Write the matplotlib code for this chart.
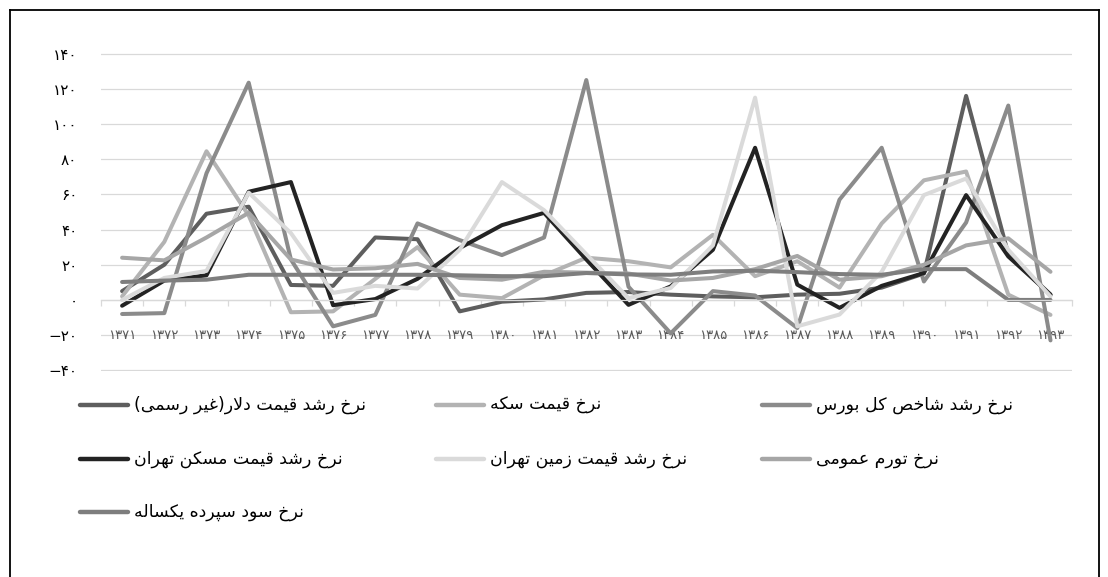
import matplotlib
matplotlib.use('Agg')
import matplotlib.pyplot as plt
from matplotlib.lines import Line2D
from matplotlib import font_manager
from matplotlib.ft2font import FT2Font

plt.rcParams['font.family'] = ['DejaVu Sans']

# ---------------- data ----------------
years = [1371, 1372, 1373, 1374, 1375, 1376, 1377, 1378, 1379, 1380, 1381, 1382,
         1383, 1384, 1385, 1386, 1387, 1388, 1389, 1390, 1391, 1392, 1393]

dollar = [5, 20, 49, 53, 8.5, 8, 35.5, 34.5, -6.5, -1, 0.3, 4, 4.5, 3, 2, 1.5,
          3, 3.5, 7, 15, 116, 26, 3]
coin = [2, 33, 84.5, 48, -7, -6.5, 12, 30, 3, 1, 14, 24, 22, 18.5, 37, 13.5,
        22, 7, 43.5, 68, 73, 3, -8.5]
stock = [-8, -7.5, 72, 123.5, 23, -15, -8.5, 43.5, 34, 25.5, 35.5, 125, 7.5,
         -19, 5, 2.5, -16, 57, 86.5, 10.5, 44, 110.5, -23]
housing = [-3.3, 11, 14, 61.5, 67, -3, 0.5, 12, 29.5, 42.5, 49.5, 23, -2.8,
           7.7, 28.5, 86.5, 8.7, -4.5, 8, 15.3, 59.6, 24.7, 3]
land = [0, 12.5, 16.5, 61, 38, 4, 8, 6.5, 28.5, 67, 51, 26, 1, 6.8, 31, 115,
        -15, -8.3, 16, 59.6, 69, 28.5, 2]
inflation = [24, 22.5, 35.5, 49.5, 23, 17.3, 18, 20.5, 12.5, 11.5, 16, 15.5,
             15, 11, 12.5, 17.5, 25, 11.5, 13.5, 20, 31, 35, 16]
deposit = [10.2, 11, 11.5, 14.3, 14.3, 14.3, 14.3, 14.3, 14, 13.5, 13.5, 15.3,
           14.5, 14.3, 16.2, 16.6, 15.8, 14.7, 14.3, 17.5, 17.5, 0, 0]

series_names = [
    'نرخ رشد قیمت دلار(غیر رسمی)',
    'نرخ قیمت سکه',
    'نرخ رشد شاخص کل بورس',
    'نرخ رشد قیمت مسکن تهران',
    'نرخ رشد قیمت زمین تهران',
    'نرخ تورم عمومی',
    'نرخ سود سپرده یکساله',
]
series_values = [dollar, coin, stock, housing, land, inflation, deposit]
series_colors = ['#5e5e5e', '#b3b3b3', '#8b8b8b', '#232323', '#dadada',
                 '#a6a6a6', '#7e7e7e']

y_ticks = [-40, -20, 0, 20, 40, 60, 80, 100, 120, 140]

# ---------------- Persian text helpers ----------------
FA_DIGITS = str.maketrans('0123456789-', '۰۱۲۳۴۵۶۷۸۹−')


def to_fa(n):
    return str(n).translate(FA_DIGITS)


FORMS = {
    'ا': ('\uFE8D', '\uFE8E', None, None),
    'ب': ('\uFE8F', '\uFE90', '\uFE91', '\uFE92'),
    'ت': ('\uFE95', '\uFE96', '\uFE97', '\uFE98'),
    'خ': ('\uFEA5', '\uFEA6', '\uFEA7', '\uFEA8'),
    'د': ('\uFEA9', '\uFEAA', None, None),
    'ر': ('\uFEAD', '\uFEAE', None, None),
    'ز': ('\uFEAF', '\uFEB0', None, None),
    'س': ('\uFEB1', '\uFEB2', '\uFEB3', '\uFEB4'),
    'ش': ('\uFEB5', '\uFEB6', '\uFEB7', '\uFEB8'),
    'ص': ('\uFEB9', '\uFEBA', '\uFEBB', '\uFEBC'),
    'ع': ('\uFEC9', '\uFECA', '\uFECB', '\uFECC'),
    'غ': ('\uFECD', '\uFECE', '\uFECF', '\uFED0'),
    'ق': ('\uFED5', '\uFED6', '\uFED7', '\uFED8'),
    'ل': ('\uFEDD', '\uFEDE', '\uFEDF', '\uFEE0'),
    'م': ('\uFEE1', '\uFEE2', '\uFEE3', '\uFEE4'),
    'ن': ('\uFEE5', '\uFEE6', '\uFEE7', '\uFEE8'),
    'ه': ('\uFEE9', '\uFEEA', '\uFEEB', '\uFEEC'),
    'و': ('\uFEED', '\uFEEE', None, None),
    'پ': ('\uFB56', '\uFB57', '\uFB58', '\uFB59'),
    'ک': ('\uFB8E', '\uFB8F', '\uFB90', '\uFB91'),
    'ی': ('\uFBFC', '\uFBFD', '\uFBFE', '\uFBFF'),
}
FALLBACK = {
    'ک': ('\uFED9', '\uFEDA', '\uFEDB', '\uFEDC'),
    'ی': ('\uFEEF', '\uFEF0', '\uFEF3', '\uFEF4'),
}
try:
    _cmap = FT2Font(font_manager.findfont('DejaVu Sans')).get_charmap()
    for k, alt in FALLBACK.items():
        if any(ord(c) not in _cmap for c in FORMS[k]):
            FORMS[k] = alt
except Exception:
    pass


def dual(c):
    return c in FORMS and FORMS[c][2] is not None


def joining(c):
    return c in FORMS


def shape(text):
    out = []
    i = 0
    n = len(text)
    while i < n:
        c = text[i]
        prev = text[i - 1] if i > 0 else ''
        jp = dual(prev) and joining(c)
        if c == 'ل' and i + 1 < n and text[i + 1] == 'ا':
            out.append('\uFEFC' if jp else '\uFEFB')
            i += 2
            continue
        if c not in FORMS:
            out.append(c)
            i += 1
            continue
        nxt = text[i + 1] if i + 1 < n else ''
        jn = dual(c) and joining(nxt)
        iso, fin, ini, med = FORMS[c]
        if jp and jn:
            g = med
        elif jp:
            g = fin
        elif jn:
            g = ini
        else:
            g = iso
        out.append(g)
        i += 1
    vis = ''.join(reversed(out))
    mirror = {'(': ')', ')': '('}
    return ''.join(mirror.get(ch, ch) for ch in vis)


# ---------------- figure ----------------
W, H = 1108, 577
fig = plt.figure(figsize=(W / 100, H / 100), dpi=100)

ax_left, ax_right = 101, 1071.6
ax_top, ax_bottom = 53.3, 371.0
ax = fig.add_axes([ax_left / W, 1 - ax_bottom / H,
                   (ax_right - ax_left) / W, (ax_bottom - ax_top) / H])

x = list(range(len(years)))
lines = []
for vals, col in zip(series_values, series_colors):
    ln, = ax.plot(x, vals, color=col, lw=2.9, solid_capstyle='round',
                  solid_joinstyle='round', zorder=2)
    lines.append(ln)

ax.set_xlim(-0.5, len(years) - 0.5)
ax.set_ylim(-40.4, 140.2)

grid_col = '#d9d9d9'
ax.set_yticks(y_ticks)
ax.set_yticklabels([to_fa(v) for v in y_ticks], fontsize=11, color='#000000')
ax.tick_params(axis='y', length=0, pad=17)
ax.yaxis.grid(True, color=grid_col, lw=0.9, zorder=0)
ax.set_axisbelow(True)

for s in ['top', 'right', 'left']:
    ax.spines[s].set_visible(False)
ax.spines['bottom'].set_position(('data', 0))
ax.spines['bottom'].set_color(grid_col)
ax.spines['bottom'].set_linewidth(0.9)

bounds = [i - 0.5 for i in range(len(years) + 1)]
ax.set_xticks(bounds)
ax.set_xticklabels([])
ax.tick_params(axis='x', direction='out', length=4, width=0.9, color=grid_col)

for i, yv in enumerate(years):
    ax.text(i, -20, to_fa(yv), ha='center', va='center', fontsize=9.5,
            color='#595959', zorder=1)

# ---------------- legend ----------------
def fx(px):
    return px / W


def fy(py):
    return 1 - py / H


col_x = [80, 436, 762]
row_y = [405, 459, 512]
sw_len = 48
for k, (name, ln) in enumerate(zip(series_names, lines)):
    r, c = divmod(k, 3)
    x0 = col_x[c]
    y0 = row_y[r]
    fig.add_artist(Line2D([fx(x0), fx(x0 + sw_len)], [fy(y0), fy(y0)],
                          color=ln.get_color(), lw=3.2,
                          solid_capstyle='round', transform=fig.transFigure))
    fig.text(fx(x0 + sw_len + 6), fy(y0), shape(name), ha='left',
             va='center', fontsize=12.5, color='#000000')

# ---------------- outer frame ----------------
frame_kw = dict(color='#000000', lw=1.3, transform=fig.transFigure)
fig.add_artist(Line2D([fx(9.5), fx(9.5)], [fy(9.5), fy(H + 5)], **frame_kw))
fig.add_artist(Line2D([fx(9.5), fx(1098.5)], [fy(9.5), fy(9.5)], **frame_kw))
fig.add_artist(Line2D([fx(1098.5), fx(1098.5)], [fy(9.5), fy(H + 5)], **frame_kw))

fig.savefig('out.png', dpi=100, facecolor='white')
